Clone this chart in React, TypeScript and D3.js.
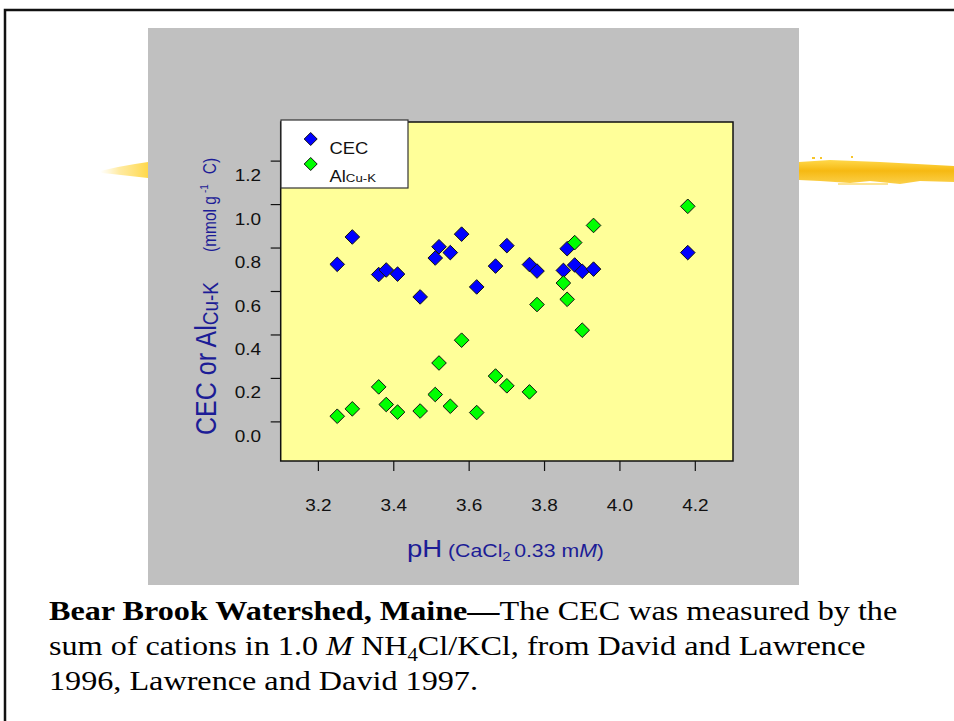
import React from "react";
import * as d3 from "d3";

const phValues = [3.25, 3.29, 3.36, 3.38, 3.41, 3.47, 3.51, 3.52, 3.55, 3.58, 3.62, 3.67, 3.70, 3.76, 3.78, 3.85, 3.86, 3.88, 3.90, 3.93, 4.18];
const cecValues = [0.725, 0.851, 0.678, 0.699, 0.680, 0.575, 0.754, 0.806, 0.779, 0.864, 0.621, 0.717, 0.811, 0.724, 0.694, 0.697, 0.797, 0.722, 0.693, 0.703, 0.779];
const alValues = [0.026, 0.060, 0.161, 0.080, 0.045, 0.050, 0.126, 0.271, 0.072, 0.376, 0.043, 0.211, 0.166, 0.138, 0.540, 0.639, 0.564, 0.825, 0.422, 0.904, 0.992];
const xTicks = [3.2, 3.4, 3.6, 3.8, 4.0, 4.2];
const yTicks = [0.0, 0.2, 0.4, 0.6, 0.8, 1.0, 1.2];

const NAVY = "#1c1c96";
const SANS = "Liberation Sans, Arial, sans-serif";
const SERIF = "Liberation Serif, Times New Roman, serif";
const SX = 1.15;

const diamond = (r: number) => `M0,${-r}L${r},0L0,${r}L${-r},0Z`;

export default function App() {
  const x = d3.scaleLinear().domain([3.1, 4.3]).range([280.7, 733]);
  const y = d3.scaleLinear().domain([-0.18, 1.38]).range([461, 122]);
  const [x0, x1] = x.range();
  const [yb, yt] = y.range();
  const fmt = d3.format(".1f");

  return (
    <svg width={954} height={721} style={{ position: "absolute", left: 0, top: 0, background: "#fff" }}>
      <defs>
        <linearGradient id="lstreak" x1="0" x2="1" y1="0" y2="0">
          <stop offset="0" stopColor="#ffe890" stopOpacity="0" />
          <stop offset="0.4" stopColor="#ffe27a" stopOpacity="0.7" />
          <stop offset="1" stopColor="#ffd84a" stopOpacity="1" />
        </linearGradient>
        <linearGradient id="rstreak" x1="0" x2="0" y1="0" y2="1">
          <stop offset="0" stopColor="#ffd84a" />
          <stop offset="0.45" stopColor="#f6b912" />
          <stop offset="1" stopColor="#fbd04a" />
        </linearGradient>
      </defs>
      <rect x={5} y={10} width={960} height={720} fill="#fff" stroke="#111" strokeWidth={2.5} />
      {/* decorative streaks */}
      <path d="M100,171 L118,167 L135,164 L148,162 L148,178 L130,176 L112,174 L102,173 Z" fill="url(#lstreak)" />
      <path d="M799,162 L830,160 L880,162 L954,166 L954,182 L920,181 L900,184 L870,181 L850,183 L820,181 L799,180 Z" fill="url(#rstreak)" />
      <rect x={812} y={157} width={3} height={2} fill="#f7c52a" />
      <rect x={820} y={157} width={2} height={2} fill="#f7c52a" />
      <rect x={851} y={156} width={2} height={2} fill="#f7c52a" />
      <rect x={838} y={183} width={50} height={2} fill="#fbd868" opacity={0.7} />
      {/* gray panel */}
      <rect x={148} y={28} width={651} height={557} fill="#c0c0c0" />
      {/* plot area */}
      <rect x={x0} y={yt} width={x1 - x0} height={yb - yt} fill="#ffff99" />
      {/* points */}
      {phValues.map((p, i) => (
        <path key={"c" + i} d={diamond(7.3)} transform={`translate(${x(p)},${y(cecValues[i])})`} fill="#0000ff" stroke="#111" strokeWidth={1} />
      ))}
      {phValues.map((p, i) => (
        <path key={"a" + i} d={diamond(7.3)} transform={`translate(${x(p)},${y(alValues[i])})`} fill="#00ff00" stroke="#111" strokeWidth={1} />
      ))}
      <rect x={x0} y={yt} width={x1 - x0} height={yb - yt} fill="none" stroke="#111" strokeWidth={1.5} />
      {/* x axis */}
      {xTicks.map((t) => (
        <g key={"x" + t} transform={`translate(${x(t)},0)`}>
          <line y1={yb} y2={yb + 10} stroke="#111" strokeWidth={1.2} />
          <text transform={`translate(0,511) scale(${SX},1)`} textAnchor="middle" fontFamily={SANS} fontSize={16.5} fill="#111">{fmt(t)}</text>
        </g>
      ))}
      {/* y axis */}
      {yTicks.map((t) => (
        <g key={"y" + t} transform={`translate(0,${y(t)})`}>
          <line x1={x0 - 10} x2={x0} stroke="#111" strokeWidth={1.2} />
          <text transform={`translate(261,20) scale(${SX},1)`} textAnchor="end" fontFamily={SANS} fontSize={16.5} fill="#111">{fmt(t)}</text>
        </g>
      ))}
      {/* x title */}
      <text transform={`translate(407,557) scale(${SX},1)`} fontFamily={SANS} fill={NAVY}>
        <tspan fontSize={24}>pH</tspan>
        <tspan fontSize={18.5} dx={5}>(CaCl</tspan>
        <tspan fontSize={13} dy={4}>2</tspan>
        <tspan fontSize={18.5} dy={-4} dx={3}>0.33 m</tspan>
        <tspan fontSize={18.5} fontStyle="italic">M</tspan>
        <tspan fontSize={18.5}>)</tspan>
      </text>
      {/* y title */}
      <text transform={`translate(216,435) scale(${SX},1) rotate(-90)`} fontFamily={SANS} fill={NAVY}>
        <tspan fontSize={25}>CEC or Al</tspan>
        <tspan fontSize={19} dy={2}>Cu-K</tspan>
        <tspan fontSize={15.5} dy={-2} dx={30}>(mmol g</tspan>
        <tspan fontSize={10} dy={-7} dx={3}>-1</tspan>
        <tspan fontSize={15.5} dy={7} dx={10}>C)</tspan>
      </text>
      {/* legend */}
      <rect x={281} y={120} width={127} height={68} fill="#fff" stroke="#333" strokeWidth={1.2} />
      <path d={diamond(6.5)} transform="translate(310.7,139)" fill="#0000ff" stroke="#111" strokeWidth={1} />
      <path d={diamond(6.5)} transform="translate(310.7,164)" fill="#00ff00" stroke="#111" strokeWidth={1} />
      <text transform={`translate(329.5,153.5) scale(${SX},1)`} fontFamily={SANS} fontSize={16} fill="#111">CEC</text>
      <text transform={`translate(329.5,182) scale(${SX},1)`} fontFamily={SANS} fill="#111">
        <tspan fontSize={16}>Al</tspan>
        <tspan fontSize={11.5}>Cu-K</tspan>
      </text>
      {/* caption */}
      <g fontFamily={SERIF} fontSize={28} fill="#000">
        <text transform={`translate(49,620) scale(${SX},1)`}>
          <tspan fontWeight="bold">Bear Brook Watershed, Maine—</tspan>
          <tspan>The CEC was measured by the</tspan>
        </text>
        <text transform={`translate(49,655) scale(${SX},1)`}>
          <tspan>sum of cations in 1.0 </tspan>
          <tspan fontStyle="italic">M</tspan>
          <tspan> NH</tspan>
          <tspan fontSize={18} dy={6}>4</tspan>
          <tspan dy={-6}>Cl/KCl, from David and Lawrence</tspan>
        </text>
        <text transform={`translate(49,690) scale(${SX},1)`}>1996, Lawrence and David 1997.</text>
      </g>
    </svg>
  );
}
